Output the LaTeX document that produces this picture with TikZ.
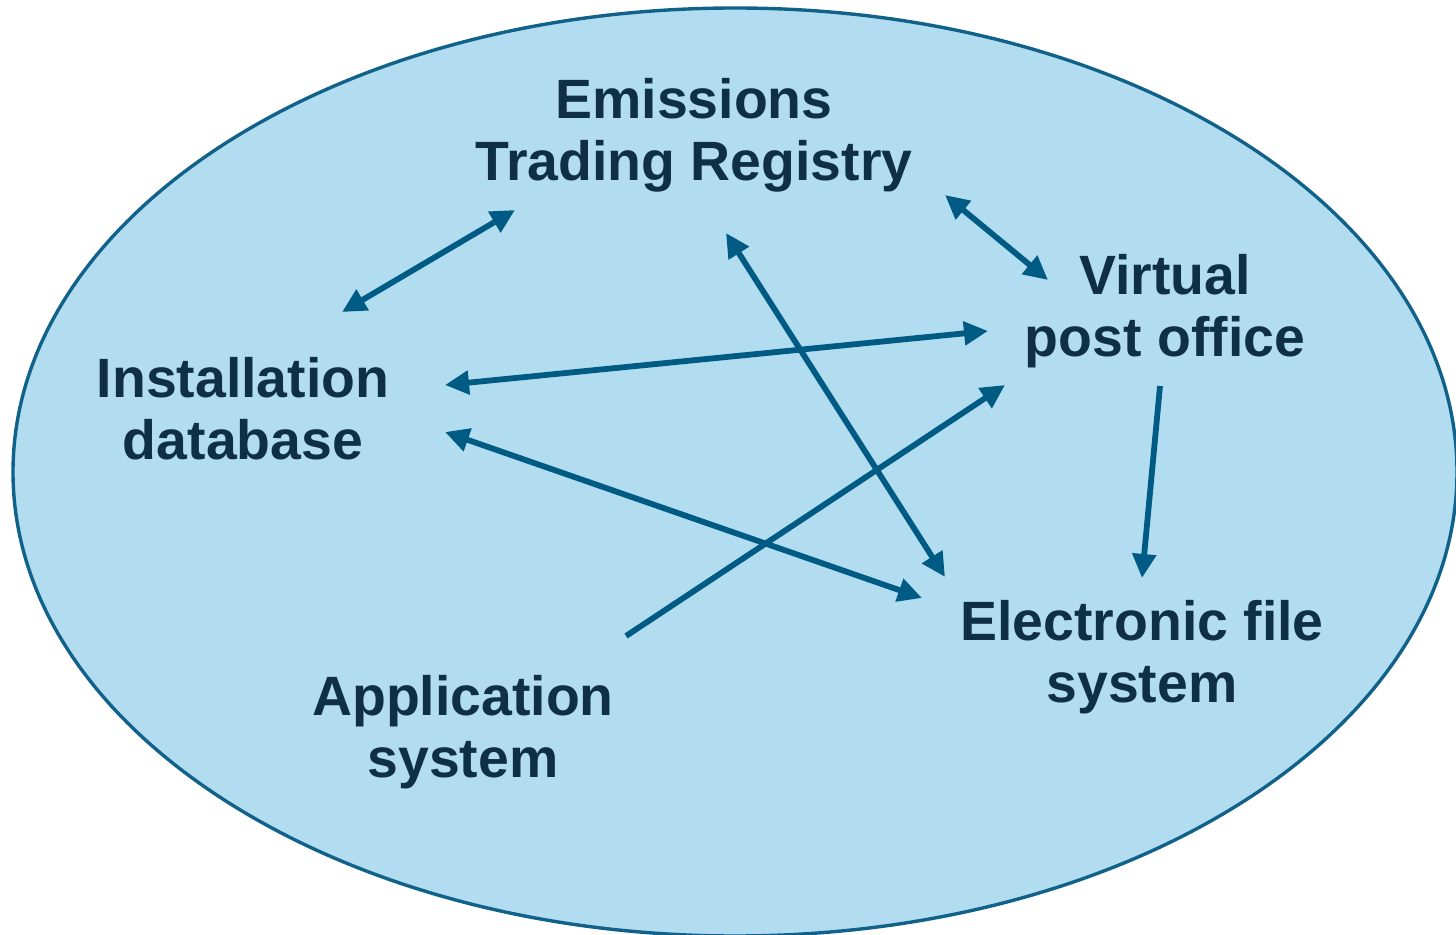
\documentclass[tikz,border=0pt]{standalone}
\usepackage{fontspec}
\setmainfont{Liberation Sans}
\usetikzlibrary{arrows.meta}
\definecolor{fillblue}{HTML}{B2DDF0}
\definecolor{edgeblue}{HTML}{10628A}
\definecolor{arrowblue}{HTML}{005B84}
\definecolor{textnavy}{HTML}{0E2F46}
\tikzset{
  lbl/.style={align=center, text=textnavy, font=\fontsize{27.7}{31}\selectfont\bfseries, inner sep=0pt},
  conn/.style={draw=arrowblue, line width=2.9pt, -{Triangle[length=12pt,width=11.5pt]}},
  biconn/.style={draw=arrowblue, line width=2.9pt, {Triangle[length=12pt,width=11.5pt]}-{Triangle[length=12pt,width=11.5pt]}}
}
\begin{document}
\begin{tikzpicture}[x=0.5pt,y=-0.5pt]
\useasboundingbox (0,0) rectangle (1456,935);
\begin{scope}
\clip (0,0) rectangle (1456,935);
\fill[fillblue] (735,472) ellipse [x radius=722, y radius=464];
\draw[edgeblue, line width=1.7pt] (735,472) ellipse [x radius=722, y radius=464];
\end{scope}

\node[lbl] (etr) at (694,135) {Emissions\\Trading Registry};
\node[lbl] (vpo) at (1165,311) {Virtual\\post office};
\node[lbl] (idb) at (243,409) {Installation\\database};
\node[lbl] (efs) at (1142,657) {Electronic file\\system};
\node[lbl] (app) at (463,732) {Application\\system};

\coordinate (etrA) at (515,210);
\coordinate (idbA) at (342,312);
\coordinate (etrB) at (945,195);
\coordinate (vpoB) at (1048,280);
\coordinate (vpoC) at (988,331);
\coordinate (idbC) at (445,385);
\coordinate (efsD) at (922,598);
\coordinate (idbD) at (445,432);
\coordinate (etrE) at (726,233);
\coordinate (efsE) at (945,577);
\coordinate (appF) at (626,636);
\coordinate (vpoF) at (1005,385);
\coordinate (vpoG) at (1160,386);
\coordinate (efsG) at (1142,578);

\draw[biconn] (etrA) -- (idbA);
\draw[biconn] (etrB) -- (vpoB);
\draw[biconn] (vpoC) -- (idbC);
\draw[biconn] (efsD) -- (idbD);
\draw[biconn] (etrE) -- (efsE);
\draw[conn] (appF) -- (vpoF);
\draw[conn] (vpoG) -- (efsG);
\end{tikzpicture}
\end{document}
